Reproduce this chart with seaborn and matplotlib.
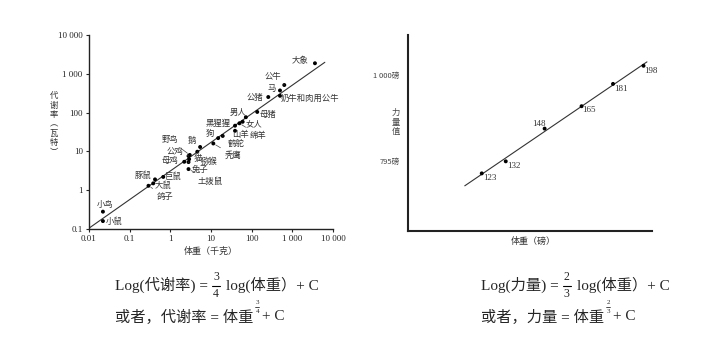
import numpy as np
import matplotlib
matplotlib.use("Agg")
import matplotlib.pyplot as plt
import seaborn as sns
import pandas as pd

# 左图：从小鼠到大象的代谢率曲线
animals = ["小鼠", "小鸟", "鸽子", "大鼠", "豚鼠", "巨鼠", "土拨鼠", "兔子", "母鸡", "猫",
           "公鸡", "野鸟", "鹅", "猕猴", "秃鹰", "狗", "鹤鸵", "山羊", "黑猩猩", "绵羊",
           "女人", "男人", "母猪", "公猪", "奶牛和肉用公牛", "马", "公牛", "大象"]
mass_kg = [0.022, 0.022, 0.29, 0.38, 0.42, 0.67, 2.8, 2.8, 2.2, 2.9,
           2.8, 3.0, 5.4, 4.6, 11.4, 15, 19.4, 39, 39, 50,
           60, 72, 137, 256, 497, 497, 634, 3600]
metabolic_w = [0.16, 0.28, 1.3, 1.5, 1.9, 2.2, 3.5, 5.3, 5.4, 6.3,
               7.6, 8.1, 13, 9.8, 16, 22, 25, 34, 46, 53,
               58, 76, 104, 252, 271, 372, 514, 1870]
fit_mass = [0.01, 6300]
fit_metab = [0.105, 1980]

x_ticks = [0.01, 0.1, 1, 10, 100, 1000, 10000]
x_ticklabels = ["0.01", "0.1", "1", "10", "100", "1 000", "10 000"]
y_ticks = [0.1, 1, 10, 100, 1000, 10000]
y_ticklabels = ["0.1", "1", "10", "100", "1 000", "10 000"]

# 右图：举重冠军的体重级别与力量
lifter_class = [123, 132, 148, 165, 181, 198]
lifted_total = [770, 795, 867, 920, 976, 1024]
strength_ticks = [795, 1000]
strength_ticklabels = ["795磅", "1 000磅"]

# label placement (pixel offsets from the dot, leader line yes/no)
animal_offsets = {
    "小鼠": (11, 0, False), "小鸟": (2, 7, False), "鸽子": (17, -11, True),
    "大鼠": (10, -2, False), "豚鼠": (-12, 4, False), "巨鼠": (10, 0, False),
    "土拨鼠": (22, -12, True), "兔子": (12, -7, True), "母鸡": (-14, 1, False),
    "猫": (9, 1, False), "公鸡": (-14, 5, True), "野鸟": (-20, 15, True),
    "鹅": (-8, 6, False), "猕猴": (12, -10, True), "秃鹰": (20, -12, True),
    "狗": (-8, 5, False), "鹤鸵": (13, -8, True), "山羊": (5, -4, False),
    "黑猩猩": (-17, 2, False), "绵羊": (19, -12, True), "女人": (11, -2, False),
    "男人": (-8, 5, False), "母猪": (11, -2, False), "公猪": (-13, 0, False),
    "奶牛和肉用公牛": (30, -3, False), "马": (-8, 2, False),
    "公牛": (-11, 9, True), "大象": (-15, 3, False),
}
lifter_offsets = {123: (1, -5, "left"), 132: (1, -5, "left"), 148: (-6, 5, "center"),
                  165: (1, -4, "left"), 181: (1, -5, "left"), 198: (1, -5, "left")}

sns.set_style("ticks")
cjk = ["Noto Sans CJK SC", "DejaVu Sans"]
mixed = ["Liberation Serif", "Noto Sans CJK SC"]
plt.rcParams["font.family"] = cjk

W, H = 726, 362
fig = plt.figure(figsize=(W / 100, H / 100), dpi=100)
renderer = fig.canvas.get_renderer()


def px_axes(x0, y0, x1, y1):
    return fig.add_axes([x0 / W, 1 - y1 / H, (x1 - x0) / W, (y1 - y0) / H])


def ftext(x, y, s, **kw):
    return fig.text(x / W, 1 - y / H, s, **kw)


def right_edge(t):
    return t.get_window_extent(renderer).x1


# ---- left panel ----
ax = px_axes(89, 35, 333, 229)
df = pd.DataFrame({"mass": mass_kg, "rate": metabolic_w, "name": animals})
sns.lineplot(x=fit_mass, y=fit_metab, ax=ax, color="#333333", lw=0.8)
sns.scatterplot(data=df, x="mass", y="rate", ax=ax, color="black", s=8,
                edgecolor="none", zorder=3)
ax.set_xscale("log")
ax.set_yscale("log")
ax.set_xlim(0.01, 10000)
ax.set_ylim(0.1, 10000)
ax.set_xticks(x_ticks, x_ticklabels)
ax.set_yticks(y_ticks, y_ticklabels)
ax.minorticks_off()
ax.tick_params(length=2.5, width=0.8, pad=2, labelsize=6.5)
for lab in ax.get_xticklabels() + ax.get_yticklabels():
    lab.set_family("Liberation Serif")
ax.set_xlabel("")
ax.set_ylabel("")
sns.despine(ax=ax)
for s in ["left", "bottom"]:
    ax.spines[s].set_linewidth(1.0)
    ax.spines[s].set_color("#222222")

for name, m, r in zip(animals, mass_kg, metabolic_w):
    dx, dy, lead = animal_offsets[name]
    ax.annotate(name, (m, r), xytext=(dx, dy), textcoords="offset pixels",
                ha="center", va="center", fontsize=6, color="#333333",
                arrowprops=dict(arrowstyle="-", lw=0.5, color="#444444",
                                shrinkA=1, shrinkB=2) if lead else None)

ftext(54, 124, "代\n谢\n率\n︵\n瓦\n特\n︶", fontsize=6, ha="center", va="center",
      linespacing=1.05, color="#333333")
ftext(211, 251, "体重（千克）", fontsize=6.5, ha="center", va="center", color="#333333")

# ---- right panel ----
ax2 = px_axes(408, 35, 652, 231)
lx = np.log10(lifter_class)
ly = np.log10(lifted_total)
k, b = np.polyfit(lx, ly, 1)
line_x = np.array([117, 200])
sns.lineplot(x=line_x, y=10 ** (k * np.log10(line_x) + b), ax=ax2,
             color="#333333", lw=0.8)
sns.scatterplot(x=lifter_class, y=lifted_total, ax=ax2, color="black", s=8,
                edgecolor="none", zorder=3)
ax2.set_xscale("log")
ax2.set_yscale("log")
ax2.set_xlim(99, 203)
ax2.set_ylim(661, 1111)
ax2.minorticks_off()
ax2.set_xticks([])
ax2.set_yticks(strength_ticks, strength_ticklabels)
ax2.tick_params(axis="y", length=0, pad=6, labelsize=5.5, labelcolor="#444444")
sns.despine(ax=ax2)
for s in ["left", "bottom"]:
    ax2.spines[s].set_linewidth(1.5)
    ax2.spines[s].set_color("#222222")
for c, t in zip(lifter_class, lifted_total):
    dx, dy, ha = lifter_offsets[c]
    ax2.annotate(str(c), (c, t), xytext=(dx, dy), textcoords="offset pixels",
                 ha=ha, va="center", fontsize=6.5, family="Liberation Serif",
                 color="#333333")

ftext(396, 122, "力\n量\n值", fontsize=6, ha="center", va="center",
      linespacing=1.05, color="#444444")
ftext(533, 241, "体重（磅）", fontsize=6.5, ha="center", va="center", color="#333333")

# ---- formulas ----
fs = 11
for x0, name, num, den in [(115, "代谢率", "3", "4"), (481, "力量", "2", "3")]:
    t = ftext(x0, 285, f"Log({name}) =", fontsize=fs, family=mixed,
              ha="left", va="center")
    fx = right_edge(t) + 8
    ftext(fx, 277, num, fontsize=8.5, family=mixed, ha="center", va="center")
    ftext(fx, 294, den, fontsize=8.5, family=mixed, ha="center", va="center")
    fig.add_artist(plt.Line2D([(fx - 4) / W, (fx + 4) / W],
                              [1 - 285.5 / H, 1 - 285.5 / H], lw=0.8, color="black"))
    ftext(fx + 10, 285, "log(体重）+ C", fontsize=fs, family=mixed,
          ha="left", va="center")

    t = ftext(x0, 317, f"或者，{name} = 体重", fontsize=fs, family=mixed,
              ha="left", va="center")
    sx = right_edge(t) + 4
    ftext(sx, 303, num, fontsize=5, family=mixed, ha="center", va="center")
    ftext(sx, 311.5, den, fontsize=5, family=mixed, ha="center", va="center")
    fig.add_artist(plt.Line2D([(sx - 2) / W, (sx + 2) / W],
                              [1 - 307 / H, 1 - 307 / H], lw=0.5, color="black"))
    ftext(sx + 5, 317, "+ C", fontsize=fs, family=mixed, ha="left", va="center")

fig.savefig("out.png", dpi=100, facecolor="white")
